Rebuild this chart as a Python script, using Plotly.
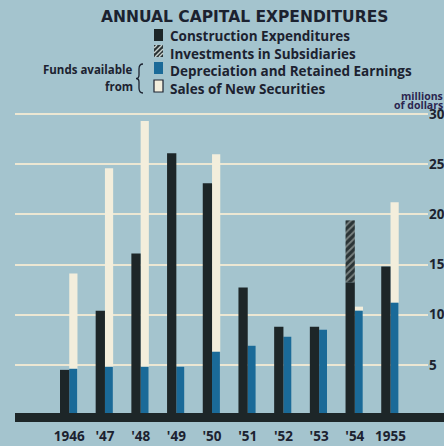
import plotly.graph_objects as go

years = ["1946", "'47", "'48", "'49", "'50", "'51", "'52", "'53", "'54", "1955"]
construction = [4.5, 10.4, 16.1, 26.1, 23.1, 12.7, 8.8, 8.8, 13.2, 14.8]
investments = [0, 0, 0, 0, 0, 0, 0, 0, 6.2, 0]
depreciation = [4.6, 4.8, 4.8, 4.8, 6.3, 6.9, 7.8, 8.5, 10.4, 11.2]
new_securities = [9.5, 19.8, 24.5, 0, 19.7, 0, 0, 0, 0.4, 10.0]
y_ticks = [5, 10, 15, 20, 25, 30]
legend_labels = ["Construction Expenditures", "Investments in Subsidiaries",
                 "Depreciation and Retained Earnings", "Sales of New Securities"]

W, H = 444, 446
PL, PR, PT, PB = 15, 428, 104, 415

def px_x(p):
    return (p - PL) / (PR - PL)

def px_y(p):
    return (PB - p) / (PB - PT)

BG = "#a4c4ce"
BLACK = "#1d2628"
BLUE = "#1a6a98"
WHITE = "#f3eedc"
GRID = "#ece7d3"
TEXT = "#1c2230"
FONT = "Open Sans"

pos = list(range(len(years)))
fig = go.Figure()

fig.add_trace(go.Bar(x=pos, y=new_securities, base=depreciation, width=0.23, offset=0,
                     marker=dict(color=WHITE, line=dict(width=0)), name=legend_labels[3]))
fig.add_trace(go.Bar(x=pos, y=depreciation, base=0, width=0.22, offset=0,
                     marker=dict(color=BLUE, line=dict(width=0)), name=legend_labels[2]))
fig.add_trace(go.Bar(x=pos, y=investments, base=construction, width=0.26, offset=-0.26,
                     marker=dict(color="#2a3436", line=dict(width=0),
                                 pattern=dict(shape="/", fgcolor="#c9d2ce", bgcolor="#2a3436",
                                              size=5, solidity=0.35)),
                     name=legend_labels[1]))
fig.add_trace(go.Bar(x=pos, y=construction, base=0, width=0.26, offset=-0.26,
                     marker=dict(color=BLACK, line=dict(width=0)), name=legend_labels[0]))

shapes = []
# baseline
shapes.append(dict(type="rect", xref="paper", yref="paper",
                   x0=px_x(15), x1=px_x(446), y0=px_y(422), y1=px_y(413),
                   fillcolor=BLACK, line=dict(width=0), layer="above"))

def rect(x0, y0, x1, y1, fill, line=None):
    return dict(type="rect", xref="paper", yref="paper",
                x0=px_x(x0), x1=px_x(x1), y0=px_y(y1), y1=px_y(y0),
                fillcolor=fill, line=line or dict(width=0))

shapes.append(rect(154, 29, 163, 41, BLACK))
shapes.append(rect(154, 45, 163, 57, "#2a3436"))
for (a, b, c, d) in [(154, 48, 157, 45), (154, 53, 162, 45), (155, 57, 163, 49), (159, 57, 163, 53)]:
    shapes.append(dict(type="line", xref="paper", yref="paper",
                       x0=px_x(a), y0=px_y(b), x1=px_x(c), y1=px_y(d),
                       line=dict(color="#c9d2ce", width=1.5)))
shapes.append(rect(154, 62, 163, 74, BLUE))
shapes.append(rect(154, 80, 163, 92, WHITE, dict(color=TEXT, width=1.2)))

def P(x, y):
    return f"{px_x(x):.5f},{px_y(y):.5f}"

brace = (f"M{P(143,64)} Q{P(139,64)} {P(139,69)} L{P(139,75)} Q{P(139,78.5)} {P(136,78.5)} "
         f"Q{P(139,78.5)} {P(139,82)} L{P(139,88)} Q{P(139,93)} {P(143,93)}")
shapes.append(dict(type="path", xref="paper", yref="paper", path=brace,
                   line=dict(color=TEXT, width=1.3)))

annotations = []
def ann(text, x, y, size, xanchor="left", color=TEXT, family=FONT, yanchor="middle", align="left"):
    annotations.append(dict(text=text, x=px_x(x), y=px_y(y), xref="paper", yref="paper",
                            xanchor=xanchor, yanchor=yanchor, showarrow=False, align=align,
                            borderpad=0,
                            font=dict(family=family, size=size, color=color, weight=700)))

ann("ANNUAL CAPITAL EXPENDITURES", 244, 17, 15.5, "center", family="DejaVu Sans")
ann("<br>".join(legend_labels), 169, 26, 13.5, yanchor="top")
ann("Funds available", 134, 69.5, 11.5, "right")
ann("from", 134, 86.5, 11.5, "right")
ann("millions", 443.5, 96, 10.5, "right", color="#2b2650")
ann("of dollars", 443.5, 105, 10.5, "right", color="#2b2650")

fig.update_layout(
    width=W, height=H,
    margin=dict(l=PL, r=W - PR, t=PT, b=H - PB),
    paper_bgcolor=BG, plot_bgcolor=BG,
    barmode="overlay", showlegend=False,
    shapes=shapes, annotations=annotations,
    xaxis=dict(range=[-1.52, 10.05], tickmode="array", tickvals=pos, ticktext=years,
               showgrid=False, zeroline=False, showline=False, automargin=False,
               ticks="outside", ticklen=9, tickcolor="rgba(0,0,0,0)",
               tickfont=dict(family=FONT, size=13.5, color=TEXT, weight=700), fixedrange=True),
    yaxis=dict(range=[0, 31], side="right", tickmode="array", tickvals=y_ticks,
               ticktext=[str(v) for v in y_ticks], automargin=False,
               showgrid=True, gridcolor=GRID, gridwidth=2, zeroline=False, showline=False,
               ticks="", tickfont=dict(family=FONT, size=13.5, color=TEXT, weight=700),
               fixedrange=True),
)

fig.write_html("out.html")
